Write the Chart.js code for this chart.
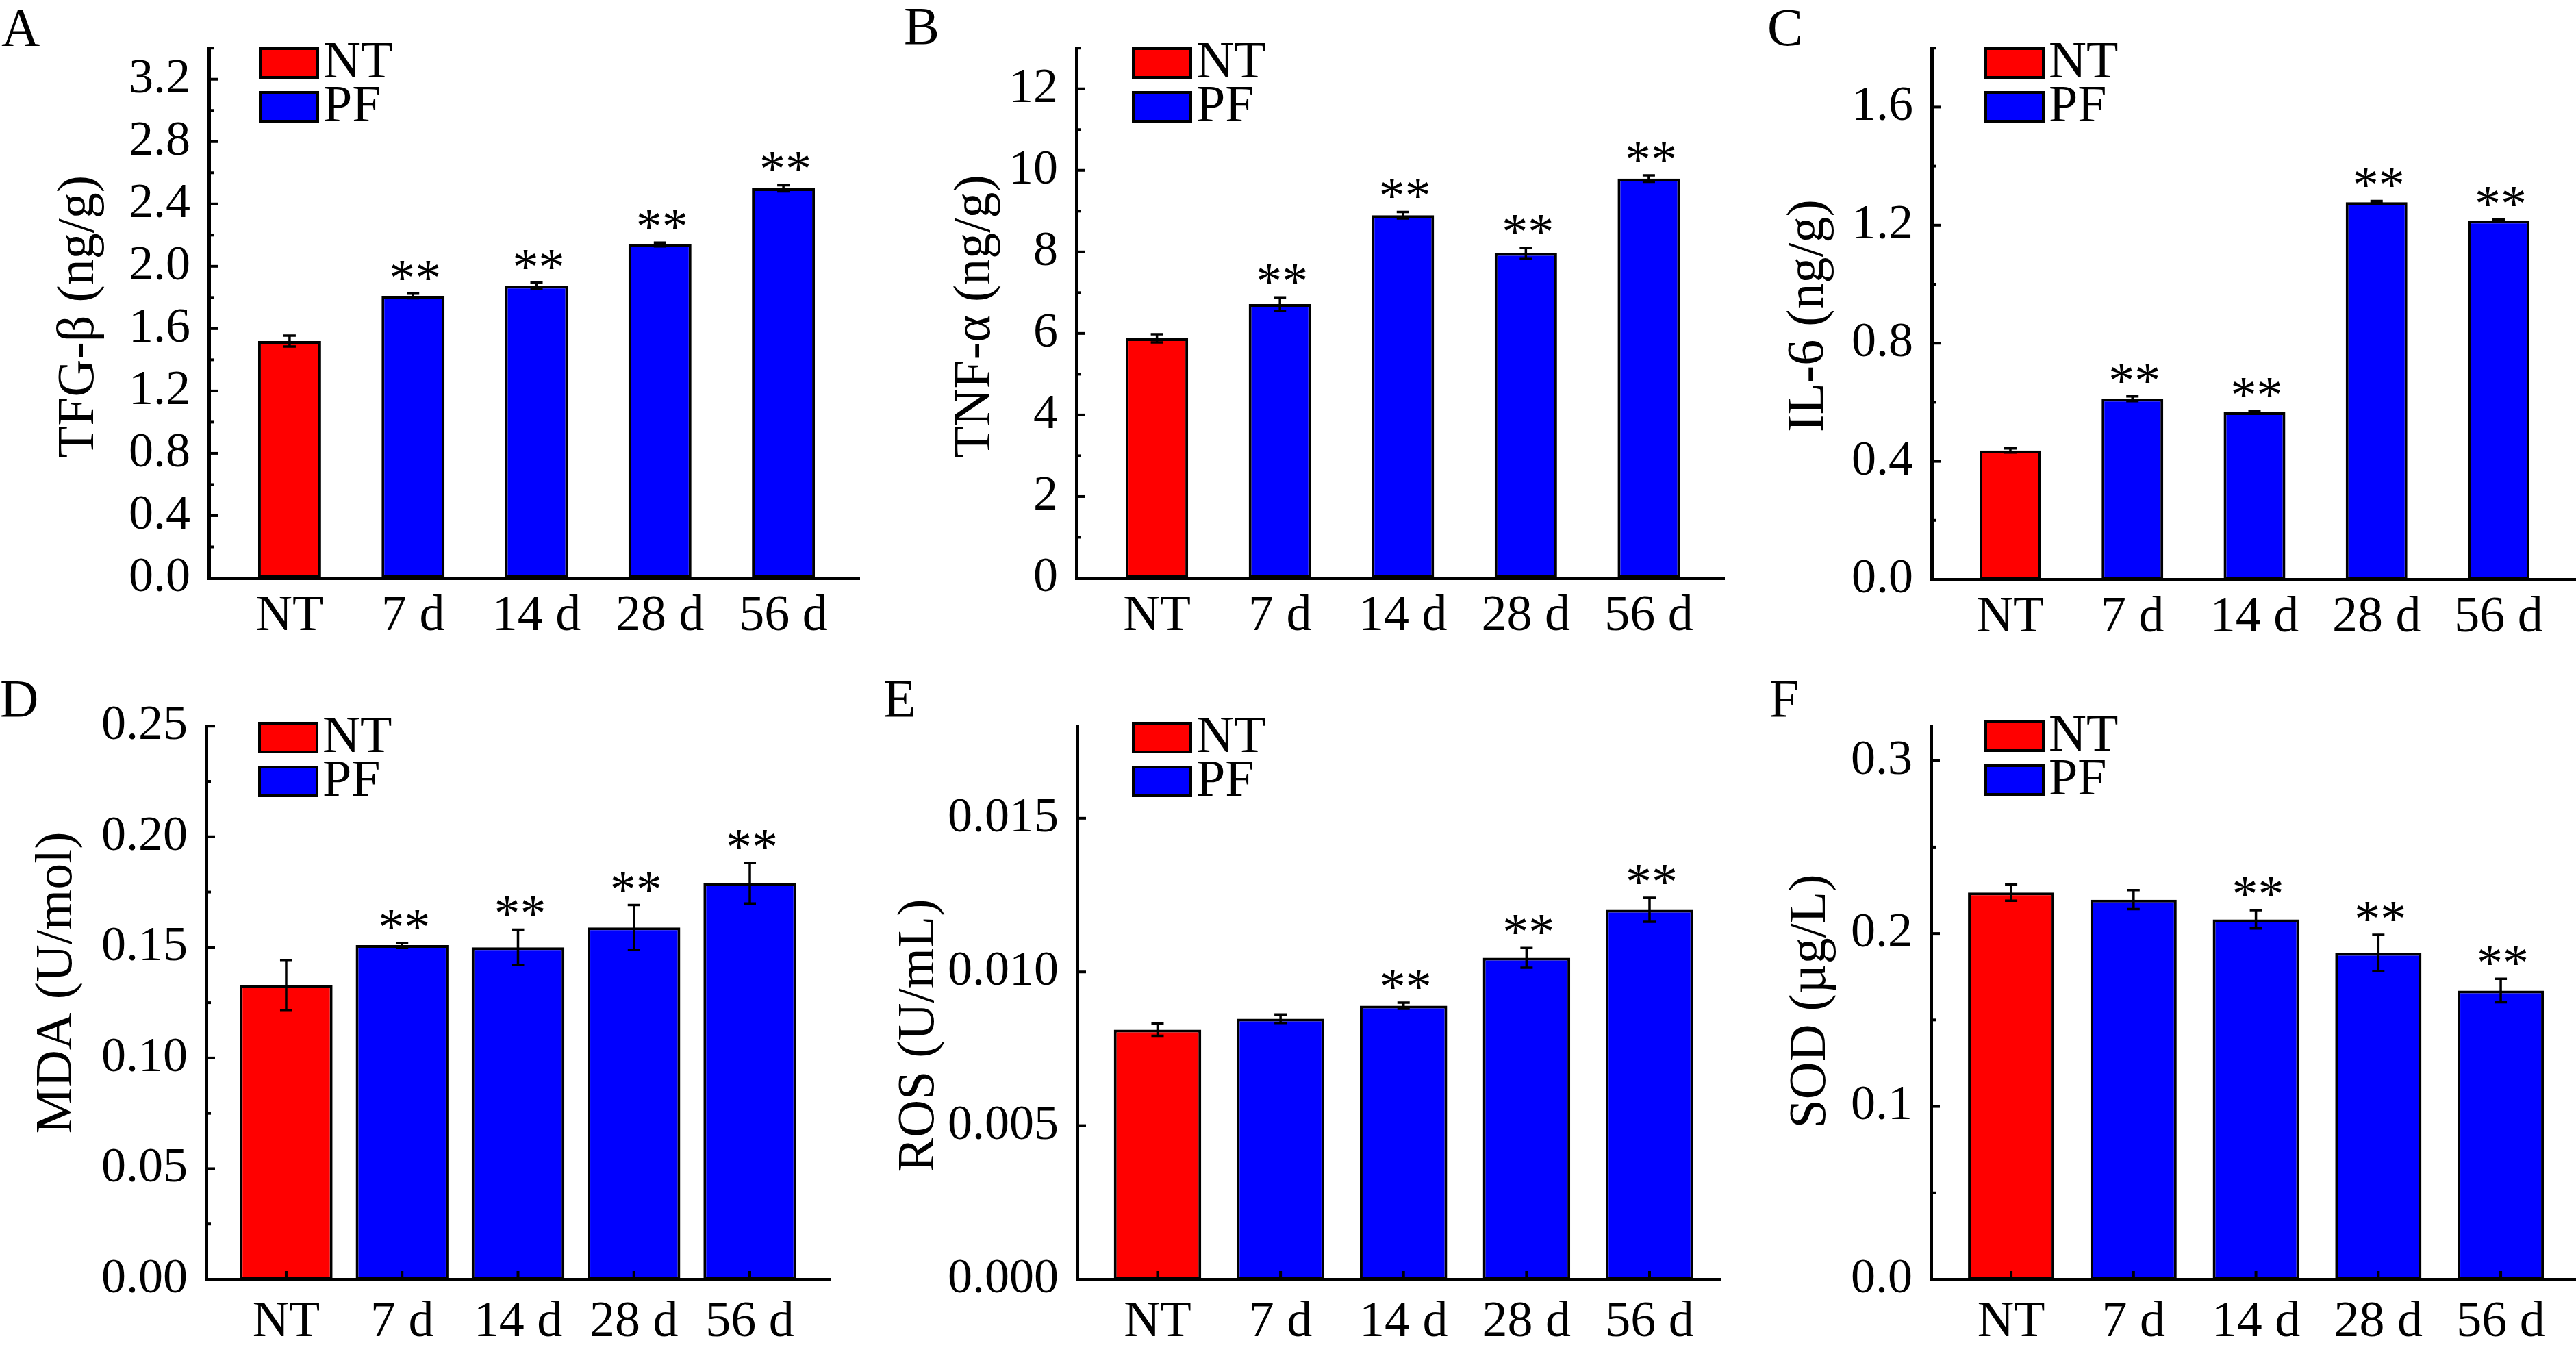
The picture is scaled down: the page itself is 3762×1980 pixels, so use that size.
<!DOCTYPE html>
<html>
<head>
<meta charset="utf-8">
<script src="https://cdn.jsdelivr.net/npm/chart.js@4.4.0/dist/chart.umd.min.js"></script>
<style>
  html, body { margin: 0; padding: 0; background: #fff; width: 3762px; height: 1980px; overflow: hidden; }
  canvas { position: absolute; }
</style>
</head>
<body>
<canvas id="cA"></canvas>
<canvas id="cB"></canvas>
<canvas id="cC"></canvas>
<canvas id="cD"></canvas>
<canvas id="cE"></canvas>
<canvas id="cF"></canvas>
<script>
// categories and series
const categories = ["NT", "7 d", "14 d", "28 d", "56 d"];
const seriesNames = ["NT", "PF"];

// A - TGF-beta
const tgfMean = [1.52, 1.81, 1.875, 2.14, 2.50];
const tgfErr = [0.035, 0.015, 0.02, 0.012, 0.02];
const tgfSig = ["", "**", "**", "**", "**"];
const tgfTicks = ["0.0", "0.4", "0.8", "1.2", "1.6", "2.0", "2.4", "2.8", "3.2"];

// B - TNF-alpha
const tnfMean = [5.88, 6.72, 8.9, 7.97, 9.8];
const tnfErr = [0.1, 0.165, 0.08, 0.13, 0.08];
const tnfSig = ["", "**", "**", "**", "**"];
const tnfTicks = ["0", "2", "4", "6", "8", "10", "12"];

// C - IL-6
const il6Mean = [0.437, 0.612, 0.566, 1.278, 1.215];
const il6Err = [0.007, 0.008, 0.004, 0.004, 0.004];
const il6Sig = ["", "**", "**", "**", "**"];
const il6Ticks = ["0.0", "0.4", "0.8", "1.2", "1.6"];

// D - MDA
const mdaMean = [0.133, 0.151, 0.150, 0.159, 0.179];
const mdaErr = [0.0113, 0.001, 0.008, 0.0101, 0.0092];
const mdaSig = ["", "**", "**", "**", "**"];
const mdaTicks = ["0.00", "0.05", "0.10", "0.15", "0.20", "0.25"];

// E - ROS
const rosMean = [0.00812, 0.00848, 0.0089, 0.01046, 0.01202];
const rosErr = [0.0002, 0.00014, 0.0001, 0.00032, 0.00039];
const rosSig = ["", "", "**", "**", "**"];
const rosTicks = ["0.000", "0.005", "0.010", "0.015"];

// F - SOD
const sodMean = [0.2237, 0.2196, 0.2082, 0.1888, 0.167];
const sodErr = [0.0047, 0.0055, 0.0053, 0.0105, 0.0068];
const sodSig = ["", "", "**", "**", "**"];
const sodTicks = ["0.0", "0.1", "0.2", "0.3"];

const FONT = "'Liberation Serif', 'Times New Roman', serif";
const RED = "#ff0000";
const BLUE = "#0000ff";

const panels = [
  { id: "cA", letter: "A", title: "TFG-β (ng/g)", mean: tgfMean, err: tgfErr, sig: tgfSig, ticks: tgfTicks,
    yMax: 3.4, minor: 0.2, canvas: [0, 0, 1262, 990], axisX: 305, axisTop: 48, axisBottom: 844, axisRight: 1255,
    xMin: 0.346, xMax: 5.615, barPct: 0.51, xTicks: false, labelPad: 12,
    legend: [380, 71], titlePos: [136, 462], letterPos: [2, 66] },
  { id: "cB", letter: "B", title: "TNF-α (ng/g)", mean: tnfMean, err: tnfErr, sig: tnfSig, ticks: tnfTicks,
    yMax: 13, minor: 1, canvas: [1262, 0, 1268, 990], axisX: 1572, axisTop: 47, axisBottom: 844, axisRight: 2518,
    xMin: 0.345, xMax: 5.613, barPct: 0.507, xTicks: false, labelPad: 12,
    legend: [1655, 71], titlePos: [1445, 462], letterPos: [1320, 64] },
  { id: "cC", letter: "C", title: "IL-6 (ng/g)", mean: il6Mean, err: il6Err, sig: il6Sig, ticks: il6Ticks,
    yMax: 1.8, minor: 0.2, canvas: [2530, 0, 1232, 990], axisX: 2821, axisTop: 54, axisBottom: 846, axisRight: 3762,
    xMin: 0.355, xMax: 5.634, barPct: 0.505, xTicks: false, labelPad: 12,
    legend: [2900, 71], titlePos: [2662, 461], letterPos: [2581, 66] },
  { id: "cD", letter: "D", title: "MDA (U/mol)", mean: mdaMean, err: mdaErr, sig: mdaSig, ticks: mdaTicks,
    yMax: 0.25, minor: 0.025, canvas: [0, 990, 1262, 990], axisX: 301, axisTop: 1053, axisBottom: 1868, axisRight: 1213,
    xMin: 0.309, xMax: 5.697, barPct: 0.80, xTicks: true, labelPad: 19,
    legend: [379, 1056], titlePos: [104, 1435], letterPos: [0, 1046] },
  { id: "cE", letter: "E", title: "ROS (U/mL)", mean: rosMean, err: rosErr, sig: rosSig, ticks: rosTicks,
    yMax: 0.018, minor: 0, canvas: [1262, 990, 1268, 990], axisX: 1573, axisTop: 1058, axisBottom: 1868, axisRight: 2513,
    xMin: 0.346, xMax: 5.579, barPct: 0.71, xTicks: true, labelPad: 19,
    legend: [1655, 1056], titlePos: [1363, 1512], letterPos: [1290, 1046] },
  { id: "cF", letter: "F", title: "SOD (µg/L)", mean: sodMean, err: sodErr, sig: sodSig, ticks: sodTicks,
    yMax: 0.32, minor: 0.05, canvas: [2530, 990, 1232, 990], axisX: 2820, axisTop: 1053, axisBottom: 1868, axisRight: 3762,
    xMin: 0.345, xMax: 5.615, barPct: 0.705, xTicks: true, labelPad: 19,
    legend: [2900, 1054], titlePos: [2665, 1462], letterPos: [2584, 1046] }
];

function decor(p) {
  const ox = p.canvas[0], oy = p.canvas[1];
  return {
    id: "decor" + p.letter,
    afterDatasetsDraw(chart) {
      const ctx = chart.ctx;
      const ys = chart.scales.y;
      const xs = chart.scales.x;
      const area = chart.chartArea;
      ctx.save();
      ctx.strokeStyle = "#000";
      ctx.fillStyle = "#000";

      // inward ticks on the y axis
      ctx.lineWidth = 4;
      p.ticks.forEach(t => {
        const y = ys.getPixelForValue(+t);
        ctx.beginPath(); ctx.moveTo(area.left, y); ctx.lineTo(area.left + 13, y); ctx.stroke();
        if (p.minor) {
          const mv = +t + p.minor;
          if (mv <= p.yMax + 1e-9) {
            const my = ys.getPixelForValue(mv);
            ctx.beginPath(); ctx.moveTo(area.left, my); ctx.lineTo(area.left + 7, my); ctx.stroke();
          }
        }
      });

      // error bars and significance marks
      chart.data.datasets.forEach((ds, di) => {
        const meta = chart.getDatasetMeta(di);
        meta.data.forEach((el, j) => {
          const ci = ds.data[j].x - 1;
          const m = p.mean[ci], e = p.err[ci];
          const yHi = ys.getPixelForValue(m + e);
          const yLo = ys.getPixelForValue(m - e);
          ctx.lineWidth = 3.5;
          ctx.beginPath();
          ctx.moveTo(el.x, yHi); ctx.lineTo(el.x, yLo);
          ctx.moveTo(el.x - 9, yHi); ctx.lineTo(el.x + 9, yHi);
          ctx.moveTo(el.x - 9, yLo); ctx.lineTo(el.x + 9, yLo);
          ctx.stroke();
          if (p.sig[ci]) {
            ctx.font = "76px " + FONT;
            ctx.textAlign = "center";
            ctx.textBaseline = "alphabetic";
            ctx.fillText(p.sig[ci], el.x + 3, yHi + 2);
          }
          if (p.xTicks) {
            const xp = xs.getPixelForValue(ci + 1);
            ctx.lineWidth = 4;
            ctx.beginPath(); ctx.moveTo(xp, area.bottom); ctx.lineTo(xp, area.bottom - 12); ctx.stroke();
          }
        });
      });
      ctx.restore();
    },
    afterDraw(chart) {
      const ctx = chart.ctx;
      ctx.save();
      // legend
      const colors = [RED, BLUE];
      seriesNames.forEach((name, k) => {
        const bx = p.legend[0] - ox, by = p.legend[1] - oy + k * 64;
        ctx.fillStyle = colors[k];
        ctx.fillRect(bx, by, 84, 42);
        ctx.lineWidth = 4;
        ctx.strokeStyle = "#000";
        ctx.strokeRect(bx, by, 84, 42);
        ctx.fillStyle = "#000";
        ctx.font = "76px " + FONT;
        ctx.textAlign = "left";
        ctx.textBaseline = "alphabetic";
        ctx.fillText(name, bx + 92, by + 42);
      });
      // axis title
      ctx.translate(p.titlePos[0] - ox, p.titlePos[1] - oy);
      ctx.rotate(-Math.PI / 2);
      ctx.font = "76px " + FONT;
      ctx.textAlign = "center";
      ctx.textBaseline = "alphabetic";
      ctx.fillStyle = "#000";
      ctx.fillText(p.title, 0, 0);
      ctx.setTransform(1, 0, 0, 1, 0, 0);
      // panel letter
      ctx.font = "78px " + FONT;
      ctx.textAlign = "left";
      ctx.fillText(p.letter, p.letterPos[0] - ox, p.letterPos[1] - oy);
      ctx.restore();
    }
  };
}

panels.forEach(p => {
  const cv = document.getElementById(p.id);
  const [left, top, w, h] = p.canvas;
  cv.width = w; cv.height = h;
  cv.style.left = left + "px"; cv.style.top = top + "px";
  cv.style.width = w + "px"; cv.style.height = h + "px";

  const ntData = [{ x: 1, y: p.mean[0] }];
  const pfData = p.mean.slice(1).map((v, i) => ({ x: i + 2, y: v }));

  new Chart(cv, {
    type: "bar",
    data: {
      datasets: [
        { label: seriesNames[0], data: ntData, backgroundColor: RED },
        { label: seriesNames[1], data: pfData, backgroundColor: BLUE }
      ]
    },
    options: {
      responsive: false,
      animation: false,
      devicePixelRatio: 1,
      datasets: {
        bar: {
          grouped: false,
          borderColor: "#000",
          borderWidth: 4,
          borderSkipped: false,
          categoryPercentage: 1,
          barPercentage: p.barPct
        }
      },
      layout: {
        autoPadding: false,
        padding: { left: 0, top: p.axisTop - top, right: left + w - p.axisRight, bottom: 0 }
      },
      plugins: { legend: { display: false }, tooltip: { enabled: false } },
      scales: {
        x: {
          type: "linear",
          offset: false,
          min: p.xMin,
          max: p.xMax,
          grid: { display: false, drawTicks: false, offset: false },
          border: { display: true, color: "#000", width: 5 },
          afterFit: s => { s.height = top + h - p.axisBottom; },
          afterBuildTicks: s => { s.ticks = categories.map((c, i) => ({ value: i + 1 })); },
          ticks: {
            autoSkip: false,
            maxRotation: 0,
            padding: p.labelPad,
            color: "#000",
            font: { family: FONT, size: 74 },
            callback: v => categories[Math.round(v) - 1]
          }
        },
        y: {
          min: 0,
          max: p.yMax,
          grid: { display: false, drawTicks: false },
          border: { display: true, color: "#000", width: 5 },
          afterFit: s => { s.width = p.axisX - left; },
          afterBuildTicks: s => { s.ticks = p.ticks.map(t => ({ value: +t })); },
          ticks: {
            padding: 27,
            color: "#000",
            font: { family: FONT, size: 72 },
            callback: (v, i) => p.ticks[i]
          }
        }
      }
    },
    plugins: [decor(p)]
  });
});
</script>
</body>
</html>
